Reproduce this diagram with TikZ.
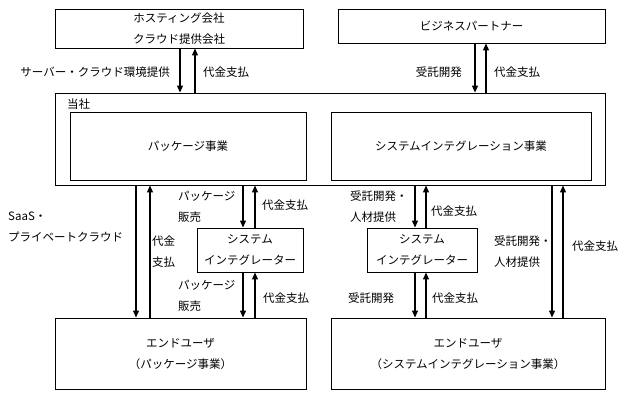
\documentclass[tikz,border=0pt]{standalone}
\usepackage{fontspec}
\setmainfont{Noto Sans CJK JP}
\usetikzlibrary{arrows.meta}
\newcommand{\lblfont}{\fontsize{11.5}{21}\selectfont}
\begin{document}
\begin{tikzpicture}[x=1pt,y=-1pt,
  box/.style={draw, line width=0.9pt, inner sep=0pt, align=center, font=\lblfont},
  lbl/.style={inner sep=0pt, align=left, font=\lblfont},
  arr/.style={line width=1.1pt, -{Triangle[length=7pt,width=6pt]}}]
\useasboundingbox (0,0) rectangle (624,397);
% boxes
\node[box, minimum width=248, minimum height=39] (host) at (179,28.5) {ホスティング会社\\クラウド提供会社};
\node[box, minimum width=267, minimum height=34] (bp) at (471.5,26) {ビジネスパートナー};
\node[box, minimum width=550, minimum height=92] (main) at (330,139) {};
\node[lbl, anchor=west] (tosha) at (67,104) {当社};
\node[box, minimum width=236, minimum height=68] (pkg) at (188,146) {パッケージ事業};
\node[box, minimum width=260, minimum height=68] (si) at (461,146) {システムインテグレーション事業};
\node[box, minimum width=106, minimum height=44] (sil) at (250,250) {システム\\インテグレーター};
\node[box, minimum width=110, minimum height=44] (sir) at (422,250) {システム\\インテグレーター};
\node[box, minimum width=251, minimum height=71] (eul) at (180.5,353.5) {エンドユーザ\\（パッケージ事業）};
\node[box, minimum width=274, minimum height=71] (eur) at (468,353.5) {エンドユーザ\\（システムインテグレーション事業）};
% x positions for connectors
\coordinate (x180) at (180,0);
\coordinate (x195) at (195,0);
\coordinate (x475) at (475,0);
\coordinate (x486) at (486,0);
\coordinate (x136) at (136,0);
\coordinate (x150) at (150,0);
\coordinate (x243) at (243,0);
\coordinate (x255) at (255,0);
\coordinate (x415) at (415,0);
\coordinate (x426) at (426,0);
\coordinate (x552) at (552,0);
\coordinate (x563) at (563,0);
% connectors
\draw[arr] (host.south -| x180) -- (main.north -| x180);
\draw[arr] (main.north -| x195) -- (host.south -| x195);
\draw[arr] (bp.south -| x475) -- (main.north -| x475);
\draw[arr] (main.north -| x486) -- (bp.south -| x486);
\draw[arr] (main.south -| x136) -- (eul.north -| x136);
\draw[arr] (eul.north -| x150) -- (main.south -| x150);
\draw[arr] (main.south -| x243) -- (sil.north -| x243);
\draw[arr] (sil.north -| x255) -- (main.south -| x255);
\draw[arr] (sil.south -| x243) -- (eul.north -| x243);
\draw[arr] (eul.north -| x255) -- (sil.south -| x255);
\draw[arr] (main.south -| x415) -- (sir.north -| x415);
\draw[arr] (sir.north -| x426) -- (main.south -| x426);
\draw[arr] (sir.south -| x415) -- (eur.north -| x415);
\draw[arr] (eur.north -| x426) -- (sir.south -| x426);
\draw[arr] (main.south -| x552) -- (eur.north -| x552);
\draw[arr] (eur.north -| x563) -- (main.south -| x563);
% labels
\node[lbl, anchor=east] (l1) at (170,72) {サーバー・クラウド環境提供};
\node[lbl, anchor=west] (l2) at (203,72) {代金支払};
\node[lbl, anchor=east] (l3) at (462,72) {受託開発};
\node[lbl, anchor=west] (l4) at (494,72) {代金支払};
\node[lbl, anchor=west] (l5) at (8,226.5) {SaaS・\\プライベートクラウド};
\node[lbl, anchor=west] (l6) at (152,252) {代金\\支払};
\node[lbl, anchor=west] (l7) at (178,206.5) {パッケージ\\販売};
\node[lbl, anchor=west] (l8) at (262,205) {代金支払};
\node[lbl, anchor=west] (l9) at (178,296) {パッケージ\\販売};
\node[lbl, anchor=west] (l10) at (263,298) {代金支払};
\node[lbl, anchor=west] (l11) at (350,206.5) {受託開発・\\人材提供};
\node[lbl, anchor=west] (l12) at (431,211) {代金支払};
\node[lbl, anchor=west] (l13) at (494,252) {受託開発・\\人材提供};
\node[lbl, anchor=west] (l14) at (572,246) {代金支払};
\node[lbl, anchor=west] (l15) at (348,298) {受託開発};
\node[lbl, anchor=west] (l16) at (432,298) {代金支払};
\end{tikzpicture}
\end{document}
